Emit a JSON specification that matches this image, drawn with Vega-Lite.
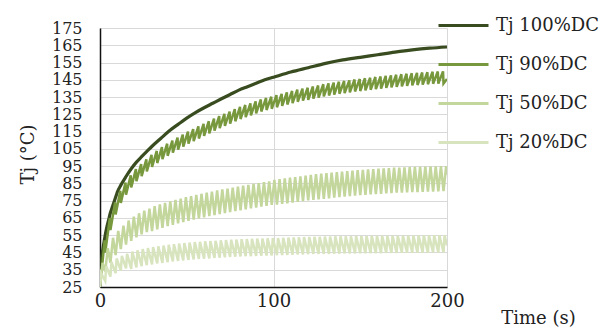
{
  "$schema": "https://vega.github.io/schema/vega-lite/v6.json",
  "width": 347,
  "height": 259,
  "autosize": {"type": "none"},
  "padding": {"left": 100, "top": 28, "right": 156, "bottom": 44},
  "background": "white",
  "config": {
    "view": {"stroke": null},
    "font": "DejaVu Serif",
    "axis": {"labelFont": "DejaVu Serif", "labelFontSize": 18, "labelColor": "#222", "titleFont": "DejaVu Serif", "titleFontSize": 18, "titleFontWeight": "normal", "titleColor": "#222", "gridColor": "#D9D9D9", "gridWidth": 1, "ticks": false, "domainColor": "#111", "domainWidth": 1.5, "labelOverlap": false}
  },
  "datasets": {
    "d100": [
      {"t":0,"v":25},{"t":0.5,"v":36},{"t":1,"v":42},{"t":2,"v":49},{"t":3,"v":55},{"t":4,"v":60},{"t":5,"v":64},{"t":6,"v":68},{"t":7,"v":71},{"t":8,"v":74},{"t":9,"v":77},{"t":10,"v":80},{"t":12,"v":84},{"t":15,"v":89},{"t":18,"v":93.5},{"t":21,"v":97.3},{"t":24,"v":100.5},{"t":27,"v":103.5},{"t":30,"v":106.5},{"t":35,"v":111},{"t":40,"v":115.5},{"t":45,"v":119.2},{"t":50,"v":122.8},{"t":55,"v":126},{"t":60,"v":128.8},{"t":65,"v":131.4},{"t":70,"v":134},{"t":75,"v":136.5},{"t":80,"v":139},{"t":85,"v":141},{"t":90,"v":143},{"t":95,"v":145},{"t":100,"v":146.5},{"t":110,"v":149.5},{"t":120,"v":152},{"t":130,"v":154.5},{"t":140,"v":156.5},{"t":150,"v":158},{"t":160,"v":159.5},{"t":170,"v":161},{"t":180,"v":162.3},{"t":190,"v":163.3},{"t":200,"v":164}
    ],
    "d90": [
      {"t":0,"v":25},{"t":2.7,"v":52},{"t":3,"v":45},{"t":5.7,"v":65},{"t":6,"v":58},{"t":8.7,"v":74},{"t":9,"v":67},{"t":11.7,"v":80.7},{"t":12,"v":73.7},{"t":14.7,"v":85.5},{"t":15,"v":78.5},{"t":17.7,"v":89.7},{"t":18,"v":82.7},{"t":20.7,"v":93.3},{"t":21,"v":86.3},{"t":23.7,"v":96.2},{"t":24,"v":89.2},{"t":26.7,"v":98.9},{"t":27,"v":91.9},{"t":29.7,"v":101.5},{"t":30,"v":94.5},{"t":32.7,"v":103.8},{"t":33,"v":96.8},{"t":35.7,"v":106},{"t":36,"v":99},{"t":38.7,"v":108},{"t":39,"v":101},{"t":41.7,"v":109.8},{"t":42,"v":102.8},{"t":44.7,"v":111.5},{"t":45,"v":104.5},{"t":47.7,"v":113.3},{"t":48,"v":106.3},{"t":50.7,"v":115},{"t":51,"v":108},{"t":53.7,"v":116.5},{"t":54,"v":109.5},{"t":56.7,"v":118},{"t":57,"v":111},{"t":59.7,"v":119.5},{"t":60,"v":112.5},{"t":62.7,"v":121},{"t":63,"v":114},{"t":65.7,"v":122.5},{"t":66,"v":115.5},{"t":68.7,"v":124},{"t":69,"v":117},{"t":71.7,"v":125.3},{"t":72,"v":118.3},{"t":74.7,"v":126.6},{"t":75,"v":119.6},{"t":77.7,"v":128},{"t":78,"v":121},{"t":80.7,"v":129.3},{"t":81,"v":122.3},{"t":83.7,"v":130.4},{"t":84,"v":123.4},{"t":86.7,"v":131.4},{"t":87,"v":124.4},{"t":89.7,"v":132.5},{"t":90,"v":125.5},{"t":92.7,"v":133.6},{"t":93,"v":126.6},{"t":95.7,"v":134.5},{"t":96,"v":127.5},{"t":98.7,"v":135.2},{"t":99,"v":128.2},{"t":101.7,"v":136.1},{"t":102,"v":129.1},{"t":104.7,"v":136.9},{"t":105,"v":129.9},{"t":107.7,"v":137.7},{"t":108,"v":130.7},{"t":110.7,"v":138.5},{"t":111,"v":131.5},{"t":113.7,"v":139.3},{"t":114,"v":132.3},{"t":116.7,"v":139.9},{"t":117,"v":132.9},{"t":119.7,"v":140.4},{"t":120,"v":133.4},{"t":122.7,"v":141.1},{"t":123,"v":134.1},{"t":125.7,"v":141.7},{"t":126,"v":134.7},{"t":128.7,"v":142.4},{"t":129,"v":135.4},{"t":131.7,"v":142.9},{"t":132,"v":135.9},{"t":134.7,"v":143.4},{"t":135,"v":136.4},{"t":137.7,"v":143.9},{"t":138,"v":136.9},{"t":140.7,"v":144.3},{"t":141,"v":137.3},{"t":143.7,"v":144.7},{"t":144,"v":137.7},{"t":146.7,"v":145.2},{"t":147,"v":138.2},{"t":149.7,"v":145.5},{"t":150,"v":138.5},{"t":152.7,"v":145.9},{"t":153,"v":138.9},{"t":155.7,"v":146.2},{"t":156,"v":139.2},{"t":158.7,"v":146.6},{"t":159,"v":139.6},{"t":161.7,"v":146.9},{"t":162,"v":139.9},{"t":164.7,"v":147.3},{"t":165,"v":140.3},{"t":167.7,"v":147.6},{"t":168,"v":140.6},{"t":170.7,"v":147.9},{"t":171,"v":140.9},{"t":173.7,"v":148.2},{"t":174,"v":141.2},{"t":176.7,"v":148.5},{"t":177,"v":141.5},{"t":179.7,"v":148.8},{"t":180,"v":141.8},{"t":182.7,"v":149},{"t":183,"v":142},{"t":185.7,"v":149.2},{"t":186,"v":142.2},{"t":188.7,"v":149.4},{"t":189,"v":142.4},{"t":191.7,"v":149.7},{"t":192,"v":142.7},{"t":194.7,"v":149.8},{"t":195,"v":142.8},{"t":197.7,"v":149.9},{"t":198,"v":142.9},{"t":200,"v":145.5}
    ],
    "d50": [
      {"t":0,"v":25},{"t":1.5,"v":39},{"t":3,"v":34},{"t":4.5,"v":47.5},{"t":6,"v":39},{"t":7.5,"v":53.5},{"t":9,"v":43.5},{"t":10.5,"v":57.5},{"t":12,"v":47},{"t":13.5,"v":60.5},{"t":15,"v":49.5},{"t":16.5,"v":63.5},{"t":18,"v":51.7},{"t":19.5,"v":65.8},{"t":21,"v":53.8},{"t":22.5,"v":67.7},{"t":24,"v":55.5},{"t":25.5,"v":69.2},{"t":27,"v":56.8},{"t":28.5,"v":70.4},{"t":30,"v":57.4},{"t":31.5,"v":71.9},{"t":33,"v":58.4},{"t":34.5,"v":72.8},{"t":36,"v":59.3},{"t":37.5,"v":73.7},{"t":39,"v":60.2},{"t":40.5,"v":74.6},{"t":42,"v":61},{"t":43.5,"v":75.4},{"t":45,"v":61.8},{"t":46.5,"v":76.2},{"t":48,"v":62.6},{"t":49.5,"v":77},{"t":51,"v":63.3},{"t":52.5,"v":77.6},{"t":54,"v":64},{"t":55.5,"v":78.3},{"t":57,"v":64.7},{"t":58.5,"v":79},{"t":60,"v":65.3},{"t":61.5,"v":79.6},{"t":63,"v":66},{"t":64.5,"v":80.3},{"t":66,"v":66.6},{"t":67.5,"v":80.9},{"t":69,"v":67.2},{"t":70.5,"v":81.5},{"t":72,"v":67.8},{"t":73.5,"v":82},{"t":75,"v":68.3},{"t":76.5,"v":82.6},{"t":78,"v":68.9},{"t":79.5,"v":83.1},{"t":81,"v":69.4},{"t":82.5,"v":83.7},{"t":84,"v":70},{"t":85.5,"v":84.2},{"t":87,"v":70.5},{"t":88.5,"v":84.7},{"t":90,"v":71},{"t":91.5,"v":85.2},{"t":93,"v":71.5},{"t":94.5,"v":85.7},{"t":96,"v":72},{"t":97.5,"v":86.2},{"t":99,"v":72.5},{"t":100.5,"v":87},{"t":102,"v":72.7},{"t":103.5,"v":87.5},{"t":105,"v":73.1},{"t":106.5,"v":87.9},{"t":108,"v":73.5},{"t":109.5,"v":88.3},{"t":111,"v":73.9},{"t":112.5,"v":88.7},{"t":114,"v":74.3},{"t":115.5,"v":89.1},{"t":117,"v":74.7},{"t":118.5,"v":89.5},{"t":120,"v":75.1},{"t":121.5,"v":89.9},{"t":123,"v":75.5},{"t":124.5,"v":90.3},{"t":126,"v":75.8},{"t":127.5,"v":90.6},{"t":129,"v":76.1},{"t":130.5,"v":90.9},{"t":132,"v":76.4},{"t":133.5,"v":91.2},{"t":135,"v":76.7},{"t":136.5,"v":91.5},{"t":138,"v":77},{"t":139.5,"v":91.8},{"t":141,"v":77.3},{"t":142.5,"v":92.1},{"t":144,"v":77.6},{"t":145.5,"v":92.4},{"t":147,"v":77.9},{"t":148.5,"v":92.7},{"t":150,"v":78.2},{"t":151.5,"v":92.9},{"t":153,"v":78.4},{"t":154.5,"v":93.1},{"t":156,"v":78.6},{"t":157.5,"v":93.3},{"t":159,"v":78.8},{"t":160.5,"v":93.5},{"t":162,"v":79},{"t":163.5,"v":93.7},{"t":165,"v":79.2},{"t":166.5,"v":93.9},{"t":168,"v":79.4},{"t":169.5,"v":94.1},{"t":171,"v":79.6},{"t":172.5,"v":94.2},{"t":174,"v":79.7},{"t":175.5,"v":94.3},{"t":177,"v":79.8},{"t":178.5,"v":94.4},{"t":180,"v":79.9},{"t":181.5,"v":94.5},{"t":183,"v":80},{"t":184.5,"v":94.6},{"t":186,"v":80.1},{"t":187.5,"v":94.7},{"t":189,"v":80.2},{"t":190.5,"v":94.8},{"t":192,"v":80.3},{"t":193.5,"v":94.9},{"t":195,"v":80.4},{"t":196.5,"v":95},{"t":198,"v":80.5},{"t":199.5,"v":95},{"t":200,"v":90}
    ],
    "d20": [
      {"t":0,"v":25},{"t":0.6,"v":33},{"t":3,"v":28.5},{"t":3.6,"v":37},{"t":6,"v":31},{"t":6.6,"v":39.5},{"t":9,"v":33},{"t":9.6,"v":41.5},{"t":12,"v":34.5},{"t":12.6,"v":43},{"t":15,"v":35.8},{"t":15.6,"v":44.2},{"t":18,"v":35.5},{"t":18.6,"v":45.5},{"t":21,"v":36.3},{"t":21.6,"v":46.3},{"t":24,"v":37},{"t":24.6,"v":47},{"t":27,"v":37.6},{"t":27.6,"v":47.6},{"t":30,"v":38.1},{"t":30.6,"v":48.1},{"t":33,"v":38.6},{"t":33.6,"v":48.6},{"t":36,"v":39},{"t":36.6,"v":49},{"t":39,"v":39.4},{"t":39.6,"v":49.4},{"t":42,"v":39.8},{"t":42.6,"v":49.8},{"t":45,"v":40.1},{"t":45.6,"v":50.1},{"t":48,"v":40.4},{"t":48.6,"v":50.4},{"t":51,"v":40.7},{"t":51.6,"v":50.7},{"t":54,"v":41},{"t":54.6,"v":51},{"t":57,"v":41.2},{"t":57.6,"v":51.2},{"t":60,"v":41.4},{"t":60.6,"v":51.4},{"t":63,"v":41.6},{"t":63.6,"v":51.6},{"t":66,"v":41.8},{"t":66.6,"v":51.8},{"t":69,"v":42},{"t":69.6,"v":52},{"t":72,"v":42.2},{"t":72.6,"v":52.2},{"t":75,"v":42.4},{"t":75.6,"v":52.4},{"t":78,"v":42.5},{"t":78.6,"v":52.5},{"t":81,"v":42.7},{"t":81.6,"v":52.7},{"t":84,"v":42.8},{"t":84.6,"v":52.8},{"t":87,"v":42.9},{"t":87.6,"v":52.9},{"t":90,"v":43},{"t":90.6,"v":53},{"t":93,"v":43.1},{"t":93.6,"v":53.1},{"t":96,"v":43.2},{"t":96.6,"v":53.2},{"t":99,"v":43.3},{"t":99.6,"v":53.3},{"t":102,"v":43.4},{"t":102.6,"v":53.4},{"t":105,"v":43.5},{"t":105.6,"v":53.5},{"t":108,"v":43.6},{"t":108.6,"v":53.6},{"t":111,"v":43.7},{"t":111.6,"v":53.7},{"t":114,"v":43.8},{"t":114.6,"v":53.8},{"t":117,"v":43.9},{"t":117.6,"v":53.9},{"t":120,"v":44},{"t":120.6,"v":54},{"t":123,"v":44.1},{"t":123.6,"v":54.1},{"t":126,"v":44.1},{"t":126.6,"v":54.1},{"t":129,"v":44.2},{"t":129.6,"v":54.2},{"t":132,"v":44.2},{"t":132.6,"v":54.2},{"t":135,"v":44.3},{"t":135.6,"v":54.3},{"t":138,"v":44.3},{"t":138.6,"v":54.3},{"t":141,"v":44.4},{"t":141.6,"v":54.4},{"t":144,"v":44.4},{"t":144.6,"v":54.4},{"t":147,"v":44.5},{"t":147.6,"v":54.5},{"t":150,"v":44.5},{"t":150.6,"v":54.5},{"t":153,"v":44.5},{"t":153.6,"v":54.5},{"t":156,"v":44.6},{"t":156.6,"v":54.6},{"t":159,"v":44.6},{"t":159.6,"v":54.6},{"t":162,"v":44.6},{"t":162.6,"v":54.6},{"t":165,"v":44.7},{"t":165.6,"v":54.7},{"t":168,"v":44.7},{"t":168.6,"v":54.7},{"t":171,"v":44.7},{"t":171.6,"v":54.7},{"t":174,"v":44.8},{"t":174.6,"v":54.8},{"t":177,"v":44.8},{"t":177.6,"v":54.8},{"t":180,"v":44.8},{"t":180.6,"v":54.8},{"t":183,"v":44.9},{"t":183.6,"v":54.9},{"t":186,"v":44.9},{"t":186.6,"v":54.9},{"t":189,"v":44.9},{"t":189.6,"v":54.9},{"t":192,"v":45},{"t":192.6,"v":55},{"t":195,"v":45},{"t":195.6,"v":55},{"t":198,"v":45},{"t":198.6,"v":55},{"t":200,"v":49}
    ]
  },
  "encoding": {
    "x": {"field": "t", "type": "quantitative", "scale": {"domain": [0, 200], "nice": false}, "axis": {"values": [0, 100, 200], "title": "Time (s)", "titleX": 438, "titleY": 31, "titleAlign": "center", "titleBaseline": "middle", "labelPadding": 5, "labelFlush": false}},
    "y": {"field": "v", "type": "quantitative", "scale": {"domain": [25, 175], "nice": false, "zero": false}, "axis": {"values": [25,35,45,55,65,75,85,95,105,115,125,135,145,155,165,175], "title": "Tj (°C)", "titleX": -72, "titleY": 126, "titleAlign": "center", "titleBaseline": "middle", "labelPadding": 18, "labelBaseline": "middle", "labelFontSize": 16}}
  },
  "layer": [
    {"data": {"name": "d100"}, "mark": {"type": "line", "strokeWidth": 3.2, "clip": true, "interpolate": "monotone"},
     "encoding": {"color": {"datum": "Tj 100%DC", "type": "nominal",
       "scale": {"domain": ["Tj 100%DC", "Tj 90%DC", "Tj 50%DC", "Tj 20%DC"], "range": ["#384C20", "#77983C", "#C3D69B", "#D7E4BD"]},
       "legend": {"title": null, "orient": "none", "legendX": 337, "legendY": -29, "symbolType": "stroke", "symbolSize": 2500, "symbolStrokeWidth": 3, "labelFont": "DejaVu Serif", "labelFontSize": 18, "labelColor": "#222", "rowPadding": 3, "labelOffset": 6}}}},
    {"data": {"name": "d90"}, "mark": {"type": "line", "strokeWidth": 2.5, "clip": true}, "encoding": {"color": {"datum": "Tj 90%DC", "type": "nominal"}}},
    {"data": {"name": "d50"}, "mark": {"type": "line", "strokeWidth": 2.5, "clip": true}, "encoding": {"color": {"datum": "Tj 50%DC", "type": "nominal"}}},
    {"data": {"name": "d20"}, "mark": {"type": "line", "strokeWidth": 2.5, "clip": true}, "encoding": {"color": {"datum": "Tj 20%DC", "type": "nominal"}}}
  ]
}
